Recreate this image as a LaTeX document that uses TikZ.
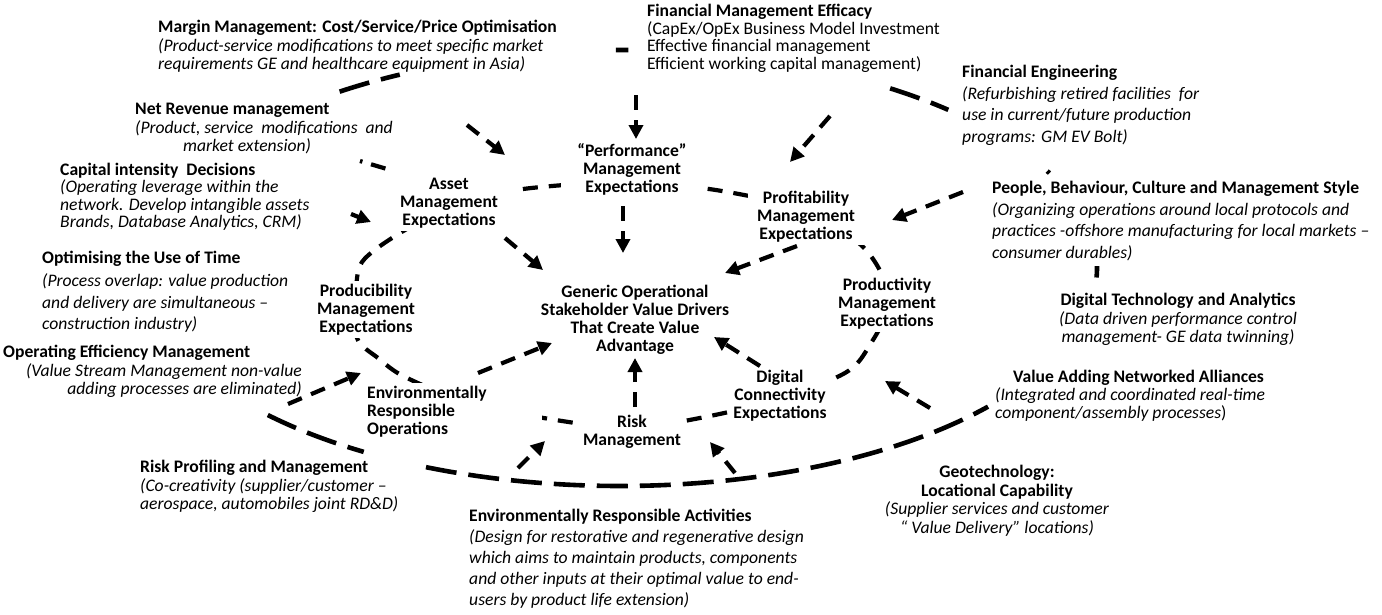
\documentclass[tikz,border=0pt]{standalone}
\usepackage{fontspec}
\setmainfont{Carlito}
\usetikzlibrary{arrows.meta}
\begin{document}
\begin{tikzpicture}[x=1pt,y=-1pt,
  txt/.style={inner sep=0pt, font=\fontsize{17.6}{#1}\selectfont},
  txt/.default=18.5,
  inode/.style={fill=white, inner sep=3pt, align=center, font=\bfseries\fontsize{17.6}{18}\selectfont},
  outerring/.style={line width=4.6pt, dash pattern=on 31pt off 12pt},
  innerring/.style={line width=4.2pt, dash pattern=on 15pt off 11pt},
  arr/.style={line width=4.2pt, dash pattern=on 15pt off 10pt, -{Triangle[length=14pt,width=14pt]}},
  stray/.style={line width=4.2pt, dash pattern=on 2.5pt off 9pt on 15pt off 40pt}]
\useasboundingbox (0,0) rectangle (1382,614);
\fill[white] (0,0) rectangle (1382,614);

% ---------- outer dashed ellipse (visible pieces) ----------
\draw[outerring] plot[domain=126:117.5, samples=20, variable=\t] ({620+477*cos(\t)},{268-218*sin(\t)});
\draw[line width=4.6pt] plot[domain=90.5:89, samples=4, variable=\t] ({620+477*cos(\t)},{268-218*sin(\t)});
\draw[outerring] plot[domain=55.5:46.5, samples=20, variable=\t] ({620+477*cos(\t)},{268-218*sin(\t)});
\draw[line width=4.6pt] plot[domain=26.4:25.8, samples=3, variable=\t] ({620+477*cos(\t)},{268-218*sin(\t)});
\draw[line width=4.6pt] plot[domain=0.5:-2.5, samples=6, variable=\t] ({620+477*cos(\t)},{268-218*sin(\t)});
\draw[outerring] plot[domain=-137.6:-122.5, samples=30, variable=\t] ({620+477*cos(\t)},{268-218*sin(\t)});
\draw[outerring] plot[domain=-114:-39.5, samples=120, variable=\t] ({620+477*cos(\t)},{268-218*sin(\t)});

% ---------- inner dashed ring ----------
\draw[innerring] plot[smooth cycle, tension=0.5] coordinates {
  (523,189) (630,182) (722,191) (810,212) (866,250) (890,300) (868,348)
  (845,373) (780,399) (705,417) (632,428) (562,421) (470,403) (405,377)
  (378,358) (357,338) (356,296) (362,262) (400,233) (455,205)};

% ---------- outer text blocks ----------
\node[txt, anchor=north west, align=left] (margin) at (158,20)
  {\textbf{Margin Management: Cost/Service/Price Optimisation}\\
   \textit{(Product-service modifications to meet specific market}\\
   \textit{requirements GE and healthcare equipment in Asia)}};
\node[txt=17.7, anchor=north west, align=left] (finmgmt) at (647,4)
  {\textbf{Financial Management Efficacy}\\
   (CapEx/OpEx Business Model Investment\\
   Effective financial management\\
   Efficient working capital management)};
\node[txt=21.7, anchor=north west, align=left] (fineng) at (962,65)
  {\textbf{Financial Engineering}\\
   \textit{(Refurbishing retired facilities\ \ for}\\
   \textit{use in current/future production}\\
   \textit{programs: GM EV Bolt)}};
\node[txt, anchor=north west, align=left] (netrev) at (135,103)
  {\textbf{Net Revenue management}\\
   \textit{(Product,\ service\ \ modifications\ \ and}\\
   \hspace*{48pt}\textit{market extension)}};
\node[txt=17.4, anchor=north west, align=left] (capital) at (60,163)
  {\textbf{Capital intensity\ \ Decisions}\\
   \textit{(Operating leverage within the}\\
   \textit{network. Develop intangible assets}\\
   \textit{Brands, Database Analytics, CRM)}};
\node[txt=21.3, anchor=north west, align=left] (optim) at (42,251)
  {\textbf{Optimising the Use of Time}\\[2pt]
   \textit{(Process overlap: value production}\\
   \textit{and delivery are simultaneous –}\\
   \textit{construction industry)}};
\node[txt, anchor=north west, align=left] (opefft) at (3,345)
  {\textbf{Operating Efficiency Management}};
\node[txt, anchor=north east, align=right] (opeffd) at (302,363)
  {\textit{(Value Stream Management non-value}\\
   \textit{adding processes are eliminated)}};
\node[txt, anchor=north west, align=left] (riskprof) at (140,460)
  {\textbf{Risk Profiling and Management}\\
   \textit{(Co-creativity (supplier/customer –}\\
   \textit{aerospace, automobiles joint RD\&D)}};
\node[txt=21, anchor=north west, align=left] (envact) at (469,509)
  {\textbf{Environmentally Responsible Activities}\\
   \textit{(Design for restorative and regenerative design}\\
   \textit{which aims to maintain products, components}\\
   \textit{and other inputs at their optimal value to end-}\\
   \textit{users by product life extension)}};
\node[txt, anchor=north, align=center] (geotech) at (997,465)
  {\textbf{Geotechnology:}\\
   \textbf{Locational Capability}\\
   \textit{(Supplier services and customer}\\
   \textit{“ Value Delivery” locations)}};
\node[txt=18, anchor=north west, align=left] (valueadd) at (995,370)
  {\hspace*{18pt}\textbf{Value Adding Networked Alliances}\\
   \textit{(Integrated and coordinated real-time}\\
   \textit{component/assembly processes})};
\node[txt, anchor=north, align=center] (digtech) at (1178,293)
  {\textbf{Digital Technology and Analytics}\\
   \textit{(Data driven performance control}\\
   \textit{management- GE data twinning)}};
\node[txt=21.5, anchor=north west, align=left] (people) at (992,181)
  {\textbf{People, Behaviour, Culture and Management Style}\\
   \textit{(Organizing operations around local protocols and}\\
   \textit{practices -offshore manufacturing for local markets –}\\
   \textit{consumer durables)}};

% ---------- inner nodes ----------
\node[inode, anchor=north, minimum width=142pt] (perf) at (632,140) {“Performance”\\Management\\Expectations};
\node[inode, anchor=north, minimum width=130pt] (asset) at (449,175) {Asset\\Management\\Expectations};
\node[inode, anchor=north, minimum width=116pt] (profit) at (806,188) {Profitability\\Management\\Expectations};
\node[inode, anchor=north] (prodcb) at (366,281) {Producibility\\Management\\Expectations};
\node[inode, anchor=north] (generic) at (635,282) {Generic Operational\\Stakeholder Value Drivers\\That Create Value\\Advantage};
\node[inode, anchor=north] (prodvt) at (887,275) {Productivity\\Management\\Expectations};
\node[inode, anchor=north west, align=left, text width=172pt] (envops) at (364,383) {Environmentally\\Responsible\\Operations};
\node[inode, anchor=north] (digcon) at (780,367) {Digital\\Connectivity\\Expectations};
\node[inode, anchor=north] (risk) at (632,412) {Risk\\Management};

% ---------- connector end points ----------
\coordinate (fmA) at (636,95);   \coordinate (fmB) at (636,139);
\coordinate (pgA) at (623,206);  \coordinate (pgB) at (623,253);
\coordinate (nrA) at (467,125);  \coordinate (nrB) at (505,155);
\coordinate (ciA) at (351,214);  \coordinate (ciB) at (371,222);
\coordinate (agA) at (505,238);  \coordinate (agB) at (543,270);
\coordinate (feA) at (830,116);  \coordinate (feB) at (790,162);
\coordinate (peA) at (963,192);  \coordinate (peB) at (892,220);
\coordinate (prA) at (797,246);  \coordinate (prB) at (725,273);
\coordinate (egA) at (478,373);  \coordinate (egB) at (552,343);
\coordinate (oeA) at (288,404);  \coordinate (oeB) at (361,373);
\coordinate (dgA) at (760,366);  \coordinate (dgB) at (714,337);
\coordinate (rgA) at (635,407);  \coordinate (rgB) at (635,358);
\coordinate (eaA) at (518,468);  \coordinate (eaB) at (545,441);
\coordinate (ebA) at (735,473);  \coordinate (ebB) at (710,442);
\coordinate (vaA) at (930,408);  \coordinate (vaB) at (885,381);
\coordinate (stA) at (360,161);  \coordinate (stB) at (387,169);

% ---------- connectors ----------
\draw[arr] (fmA) -- (fmB);
\draw[arr] (pgA) -- (pgB);
\draw[arr] (nrA) -- (nrB);
\draw[arr] (ciA) -- (ciB);
\draw[arr] (agA) -- (agB);
\draw[arr] (feA) -- (feB);
\draw[arr] (peA) -- (peB);
\draw[arr] (prA) -- (prB);
\draw[arr] (egA) -- (egB);
\draw[arr] (oeA) -- (oeB);
\draw[arr] (dgA) -- (dgB);
\draw[arr] (rgA) -- (rgB);
\draw[arr] (eaA) -- (eaB);
\draw[arr] (ebA) -- (ebB);
\draw[arr] (vaA) -- (vaB);
\draw[stray] (stA) -- (stB);
\end{tikzpicture}
\end{document}
